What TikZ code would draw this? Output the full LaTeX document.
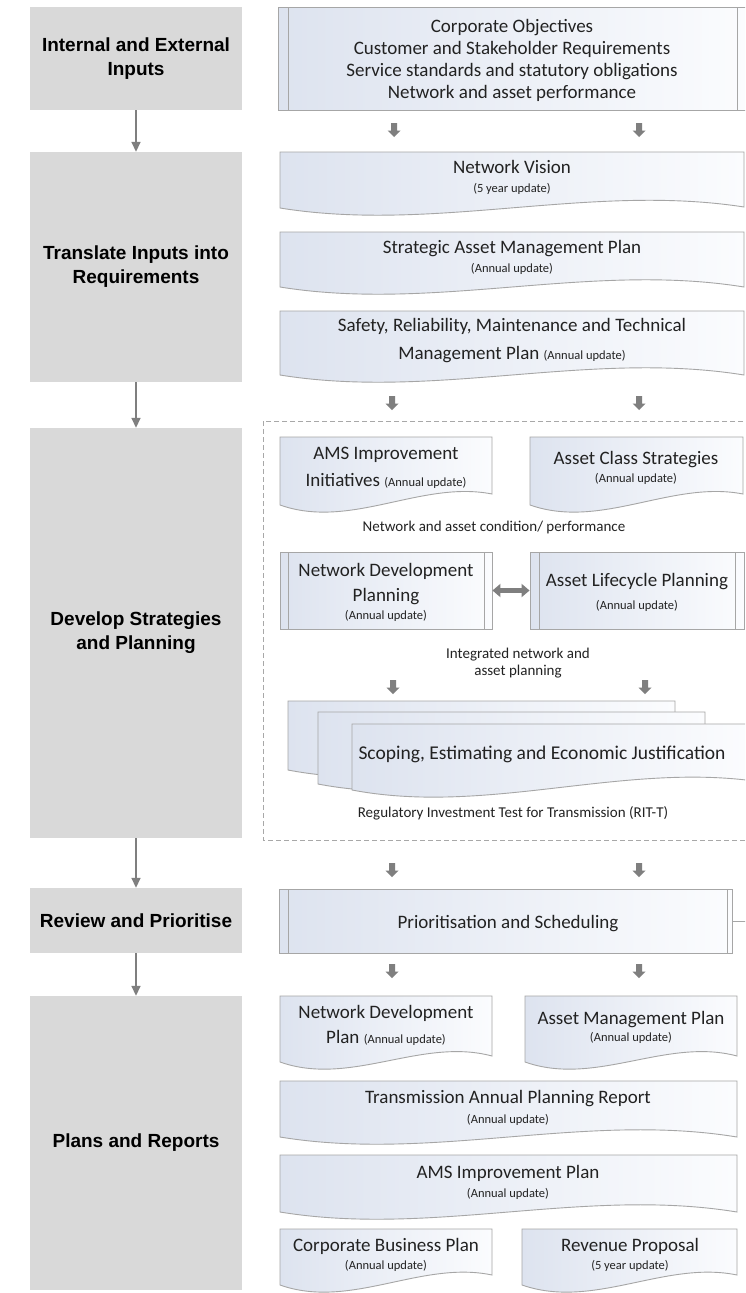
\documentclass[tikz,border=0pt]{standalone}
\usepackage{fontspec}
\setmainfont{Carlito}
\newfontfamily\lab{Liberation Sans}
\usetikzlibrary{arrows.meta}
\definecolor{graybox}{HTML}{D9D9D9}
\definecolor{edge}{HTML}{A6A6A6}
\definecolor{arr}{HTML}{7F7F7F}
\definecolor{fillL}{HTML}{DDE3EF}
\definecolor{fillR}{HTML}{FBFCFE}
\definecolor{txt}{HTML}{222222}
\definecolor{dashgray}{HTML}{A8A8A8}
\tikzset{
 gbox/.style={fill=graybox, draw=none, align=center, text=black, font=\lab\bfseries\fontsize{19}{24}\selectfont, inner sep=0, minimum width=212},
 shp/.style={draw=edge, line width=0.9, left color=fillL, right color=fillR},
 pbox/.style={shp, inner sep=0},
 bar/.style={draw=edge, line width=0.9},
 mt/.style={anchor=base, text=txt, font=\fontsize{19}{22}\selectfont, inner sep=0},
 st/.style={anchor=base, text=txt, font=\fontsize{12.5}{15}\selectfont, inner sep=0},
 lt/.style={anchor=base, text=txt, font=\fontsize{15}{18}\selectfont, inner sep=0},
 larrow/.style={draw=arr, line width=1.6, -{Triangle[width=9,length=10]}},
 dblarrow/.style={draw=arr, line width=4.5, {Triangle[width=13,length=8]}-{Triangle[width=13,length=8]}},
 dashbox/.style={draw=dashgray, line width=0.9, dash pattern=on 5pt off 3pt},
}
% document shape: x0 x1 top yleft yright
\newcommand{\mydoc}[5]{\draw[shp] (#1,#3) -- (#2,#3) -- (#2,#5) .. controls ({#1+2*(#2-#1)/3},{#4-25}) and ({#1+(#2-#1)/3},{#4+25}) .. (#1,#4) -- cycle;}
% block arrow: x ytop
\newcommand{\blkarrow}[2]{\fill[arr] ({#1-3},#2) -- ({#1+3},#2) -- ({#1+3},{#2+7.5}) -- ({#1+6.5},{#2+7.5}) -- (#1,{#2+14}) -- ({#1-6.5},{#2+7.5}) -- ({#1-3},{#2+7.5}) -- cycle;}
\begin{document}
\begin{tikzpicture}[x=1pt,y=-1pt]
\useasboundingbox (0,0) rectangle (745,1293);
\clip (0,0) rectangle (745,1293);
\fill[white] (0,0) rectangle (745,1293);

% ---------- left column ----------
\node[gbox, minimum height=103] (g1) at (136,58.5) {Internal and External\\Inputs};
\node[gbox, minimum height=230] (g2) at (136,267) {Translate Inputs into\\Requirements};
\node[gbox, minimum height=410] (g3) at (136,633) {Develop Strategies\\and Planning};
\node[gbox, minimum height=65] (g4) at (136,920.5) {Review and Prioritise};
\node[gbox, minimum height=294] (g5) at (136,1143) {Plans and Reports};
\draw[larrow] (g1.south) -- (g2.north);
\draw[larrow] (g2.south) -- (g3.north);
\draw[larrow] (g3.south) -- (g4.north);
\draw[larrow] (g4.south) -- (g5.north);

% ---------- inputs box ----------
\node[pbox, minimum width=470, minimum height=103] (inp) at (513,58.5) {};
\draw[bar] (288,7) -- (288,110);
\draw[bar] (737,7) -- (737,110);
\node[mt] (i1) at (512,32) {Corporate Objectives};
\node[mt] (i2) at (512,54) {Customer and Stakeholder Requirements};
\node[mt] (i3) at (512,76) {Service standards and statutory obligations};
\node[mt] (i4) at (512,98) {Network and asset performance};
\blkarrow{394}{123}
\blkarrow{639}{123}

% ---------- translate ----------
\mydoc{280}{744}{152}{208}{207}
\node[mt] (nv) at (512,173) {Network Vision};
\node[st] (nvs) at (512,192) {(5 year update)};
\mydoc{280}{744}{232}{287}{287}
\node[mt] (sam) at (512,253) {Strategic Asset Management Plan};
\node[st] (sams) at (512,272) {(Annual update)};
\mydoc{280}{744}{311}{375}{375}
\node[mt] (srm) at (512,331) {Safety, Reliability, Maintenance and Technical};
\node[mt] (srm2) at (512,359) {Management Plan {\fontsize{12.5}{15}\selectfont (Annual update)}};
\blkarrow{392}{396}
\blkarrow{639}{396}

% ---------- develop ----------
\draw[dashbox] (263,421) rectangle (752,840);
\mydoc{280}{492}{437}{505}{494}
\node[mt] (ams) at (386,459) {AMS Improvement};
\node[mt] (ams2) at (386,486) {Initiatives {\fontsize{12.5}{15}\selectfont (Annual update)}};
\mydoc{530}{743}{437}{505}{494}
\node[mt] (acs) at (636,464) {Asset Class Strategies};
\node[st] (acss) at (636,482) {(Annual update)};
\node[lt] (cond) at (494,531) {Network and asset condition/ performance};

\node[pbox, minimum width=212, minimum height=77] (ndpl) at (386,590.5) {};
\draw[bar] (288,552) -- (288,629);
\draw[bar] (484,552) -- (484,629);
\node[mt] (ndpl1) at (386,576) {Network Development};
\node[mt] (ndpl2) at (386,601) {Planning};
\node[st] (ndpls) at (386,619) {(Annual update)};
\node[pbox, minimum width=214, minimum height=77] (alp) at (637,590.5) {};
\draw[bar] (539,552) -- (539,629);
\draw[bar] (735,552) -- (735,629);
\node[mt] (alp1) at (637,586) {Asset Lifecycle Planning};
\node[st] (alps) at (637,609) {(Annual update)};
\draw[dblarrow] (ndpl.east) -- (alp.west);

\node[lt] (int1) at (518,658) {Integrated network and};
\node[lt] (int2) at (518,675) {asset planning};
\blkarrow{393}{680}
\blkarrow{645}{680}

\mydoc{288}{675}{701}{770}{760}
\mydoc{318}{705}{712}{784}{774}
\mydoc{352}{746}{724}{790}{780}
\node[mt, font=\fontsize{19.5}{22}\selectfont] (sco) at (542,759) {Scoping, Estimating and Economic Justification};
\node[lt] (rit) at (513,817) {Regulatory Investment Test for Transmission (RIT-T)};
\blkarrow{392}{863}
\blkarrow{639}{863}

% ---------- review ----------
\node[pbox, minimum width=453, minimum height=64] (prio) at (505.5,921) {};
\draw[bar] (288,889) -- (288,953);
\draw[bar] (727,889) -- (727,953);
\coordinate (prioout) at (750,921);
\draw[bar] (prio.east) -- (prioout);
\node[mt] (prt) at (508,928) {Prioritisation and Scheduling};
\blkarrow{392}{964}
\blkarrow{639}{964}

% ---------- plans ----------
\mydoc{280}{492}{996}{1062}{1056}
\node[mt] (ndp1) at (386,1018) {Network Development};
\node[mt] (ndp2) at (386,1043) {Plan {\fontsize{12.5}{15}\selectfont (Annual update)}};
\mydoc{525}{737}{996}{1062}{1056}
\node[mt] (amp) at (631,1024) {Asset Management Plan};
\node[st] (amps) at (631,1041) {(Annual update)};
\mydoc{280}{737}{1081}{1137}{1137}
\node[mt] (tap) at (508,1103) {Transmission Annual Planning Report};
\node[st] (taps) at (508,1123) {(Annual update)};
\mydoc{280}{737}{1155}{1212}{1212}
\node[mt] (amsp) at (508,1178) {AMS Improvement Plan};
\node[st] (amsps) at (508,1197) {(Annual update)};
\mydoc{280}{492}{1229}{1285}{1275}
\node[mt] (cbp) at (386,1251) {Corporate Business Plan};
\node[st] (cbps) at (386,1269) {(Annual update)};
\mydoc{522}{737}{1229}{1285}{1275}
\node[mt] (rp) at (630,1251) {Revenue Proposal};
\node[st] (rps) at (630,1269) {(5 year update)};
\end{tikzpicture}
\end{document}
